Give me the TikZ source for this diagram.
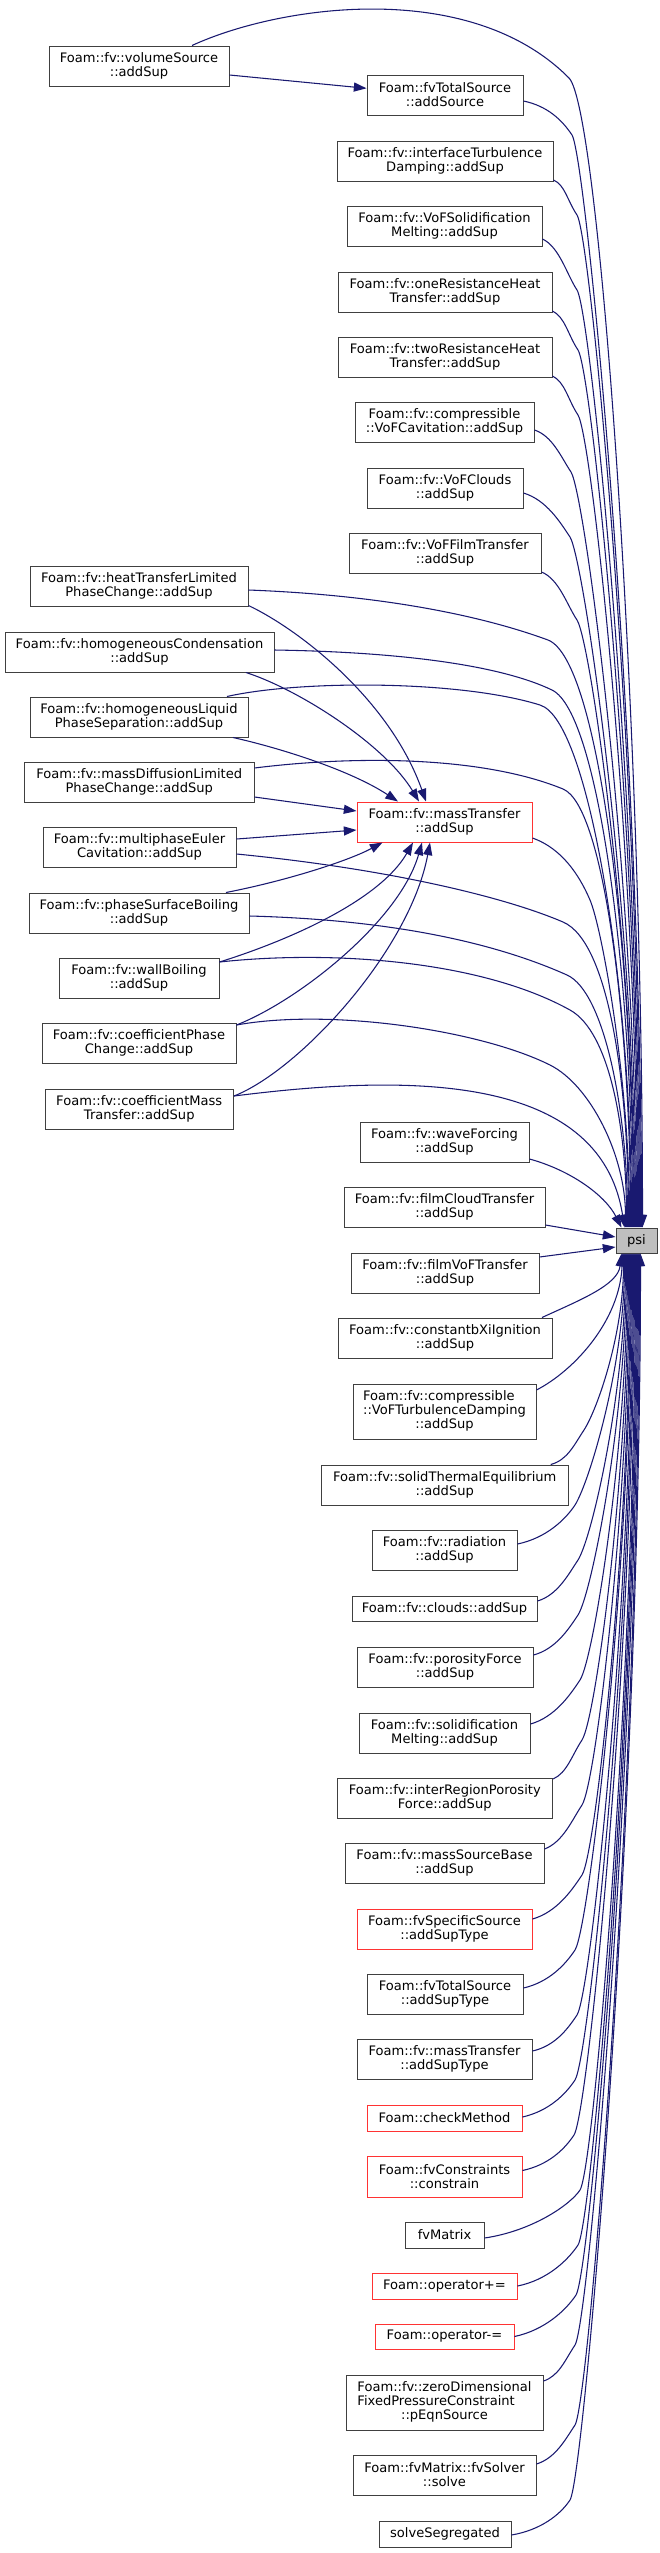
\documentclass[tikz,border=0pt]{standalone}
\usepackage{fontspec}
\setmainfont{DejaVu Sans}
\usetikzlibrary{arrows.meta,calc}
\definecolor{edgec}{HTML}{191970}
\definecolor{redb}{HTML}{FF3333}
\tikzset{
  box/.style={draw=black!75, fill=white, line width=0.75pt, inner sep=0pt, align=center,
    font=\fontsize{9.8}{10.5}\selectfont},
  redbox/.style={box, draw=redb},
  rootbox/.style={box, fill=black!25},
  edge/.style={draw=edgec, line width=0.8pt, -{Triangle[length=9.5pt,width=6.8pt]}},
}
\newcommand\bx[7][box]{\node[#1,minimum width={(#5-#3)*0.75},minimum height={(#6-#4)*0.75}] (#2) at ({(#3+#5)/2},{(#4+#6)/2}) {#7};}
\begin{document}
\begin{tikzpicture}[x=0.75pt,y=-0.75pt]
\useasboundingbox (0,0) rectangle (660,2553);
% nodes
\bx{n1}{49}{46}{229}{86}{Foam::fv::volumeSource\\::addSup}
\bx{n2}{367}{75}{523}{115}{Foam::fvTotalSource\\::addSource}
\bx{n3}{337}{141}{553}{181}{Foam::fv::interfaceTurbulence\\Damping::addSup}
\bx{n4}{347}{206}{542}{246}{Foam::fv::VoFSolidification\\Melting::addSup}
\bx{n5}{338}{272}{552}{312}{Foam::fv::oneResistanceHeat\\Transfer::addSup}
\bx{n6}{338}{337}{552}{377}{Foam::fv::twoResistanceHeat\\Transfer::addSup}
\bx{n7}{355}{402}{534}{442}{Foam::fv::compressible\\::VoFCavitation::addSup}
\bx{n8}{367}{468}{523}{508}{Foam::fv::VoFClouds\\::addSup}
\bx{n9}{349}{533}{541}{573}{Foam::fv::VoFFilmTransfer\\::addSup}
\bx{n10}{30}{566}{248}{606}{Foam::fv::heatTransferLimited\\PhaseChange::addSup}
\bx{n11}{5}{632}{274}{672}{Foam::fv::homogeneousCondensation\\::addSup}
\bx{n12}{30}{697}{248}{737}{Foam::fv::homogeneousLiquid\\PhaseSeparation::addSup}
\bx{n13}{24.5}{762}{254}{802}{Foam::fv::massDiffusionLimited\\PhaseChange::addSup}
\bx[redbox]{n14}{357}{802}{532}{842}{Foam::fv::massTransfer\\::addSup}
\bx{n15}{43}{827}{236}{867}{Foam::fv::multiphaseEuler\\Cavitation::addSup}
\bx{n16}{29}{893}{249}{933}{Foam::fv::phaseSurfaceBoiling\\::addSup}
\bx{n17}{59}{958}{219}{998}{Foam::fv::wallBoiling\\::addSup}
\bx{n18}{42}{1023}{236}{1063}{Foam::fv::coefficientPhase\\Change::addSup}
\bx{n19}{45}{1089}{233.5}{1129}{Foam::fv::coefficientMass\\Transfer::addSup}
\bx{n20}{360}{1122}{529}{1162}{Foam::fv::waveForcing\\::addSup}
\bx{n21}{344}{1187}{545}{1227}{Foam::fv::filmCloudTransfer\\::addSup}
\bx[rootbox]{psi}{616}{1228}{657}{1253}{psi}
\bx{n23}{351}{1253}{539}{1293}{Foam::fv::filmVoFTransfer\\::addSup}
\bx{n24}{338}{1318}{552}{1358}{Foam::fv::constantbXiIgnition\\::addSup}
\bx{n25}{353}{1384}{536}{1439}{\begin{tabular}{@{}l@{}}Foam::fv::compressible\\::VoFTurbulenceDamping\\\multicolumn{1}{@{}c@{}}{::addSup}\end{tabular}}
\bx{n26}{321.5}{1465}{568}{1505}{Foam::fv::solidThermalEquilibrium\\::addSup}
\bx{n27}{372}{1530}{517}{1570}{Foam::fv::radiation\\::addSup}
\bx{n28}{352}{1596}{537}{1621}{Foam::fv::clouds::addSup}
\bx{n29}{357}{1647}{533}{1687}{Foam::fv::porosityForce\\::addSup}
\bx{n30}{359}{1713}{530}{1753}{Foam::fv::solidification\\Melting::addSup}
\bx{n31}{337}{1778}{552.5}{1818}{Foam::fv::interRegionPorosity\\Force::addSup}
\bx{n32}{345}{1843}{544}{1883}{Foam::fv::massSourceBase\\::addSup}
\bx[redbox]{n33}{357}{1909}{532}{1949}{Foam::fvSpecificSource\\::addSupType}
\bx{n34}{367}{1974}{523}{2014}{Foam::fvTotalSource\\::addSupType}
\bx{n35}{357}{2039}{532}{2079}{Foam::fv::massTransfer\\::addSupType}
\bx[redbox]{n36}{367}{2105}{522}{2131}{Foam::checkMethod}
\bx[redbox]{n37}{367}{2156}{522}{2197}{Foam::fvConstraints\\::constrain}
\bx{n38}{405}{2222}{484}{2248}{fvMatrix}
\bx[redbox]{n39}{372}{2273}{517}{2299}{Foam::operator+=}
\bx[redbox]{n40}{375}{2324}{514}{2349}{Foam::operator-=}
\bx{n41}{346}{2375}{543}{2430}{\begin{tabular}{@{}l@{}}Foam::fv::zeroDimensional\\FixedPressureConstraint\\\multicolumn{1}{@{}c@{}}{::pEqnSource}\end{tabular}}
\bx{n42}{353}{2455}{536}{2495}{Foam::fvMatrix::fvSolver\\::solve}
\bx{n43}{379}{2521}{511}{2547}{solveSegregated}
% volumeSource -> fvTotalSource::addSource
\draw[edge] ($(n1.east)+(0,9)$) -- ($(n2.west)+(0,-6.7)$);
% edges into psi from above (right column)
\draw[edge] ($(n1.north)+(53,0)$) .. controls (280,5) and (470,-22) .. (569,78) .. controls (599,108) and (642.5,710) .. ($(psi.north west)+(27,0)$);
\draw[edge] ($(n2.east)+(0,6)$) .. controls (547.5,106) and (562,120) .. (572,135) .. controls (586,157) and (641.5,736) .. ($(psi.north west)+(26,0)$);
\draw[edge] ($(n3.east)+(0,19)$) .. controls (565,185) and (567,200) .. (577,215) .. controls (591,237) and (640.5,772) .. ($(psi.north west)+(25,0)$);
\draw[edge] ($(n4.east)+(0,13)$) .. controls (559.5,247) and (567,275) .. (577,290) .. controls (591,312) and (639.5,806) .. ($(psi.north west)+(24,0)$);
\draw[edge] ($(n5.east)+(0,19)$) .. controls (565,317) and (568,335) .. (578,350) .. controls (592,372) and (638.5,833) .. ($(psi.north west)+(23,0)$);
\draw[edge] ($(n6.east)+(0,19)$) .. controls (565,382) and (568,400) .. (578,415) .. controls (592,437) and (637.5,862) .. ($(psi.north west)+(22,0)$);
\draw[edge] ($(n7.east)+(0,8)$) .. controls (552.5,436) and (561,457) .. (571,472) .. controls (585,494) and (636.5,888) .. ($(psi.north west)+(21,0)$);
\draw[edge] ($(n8.east)+(0,5)$) .. controls (546.5,500) and (560,522) .. (570,537) .. controls (584,559) and (635.5,917) .. ($(psi.north west)+(20,0)$);
\draw[edge] ($(n9.east)+(0,19)$) .. controls (559,579) and (567,605) .. (577,620) .. controls (591,642) and (634.5,954) .. ($(psi.north west)+(19,0)$);
% edges into psi from the left column
\draw[edge] ($(n10.east)+(0,4)$) .. controls (380,595) and (480,615) .. (548,640) .. controls (600,660) and (633.5,963) .. ($(psi.north west)+(18,0)$);
\draw[edge] ($(n11.east)+(0,-2)$) .. controls (400,652) and (500,665) .. (552,690) .. controls (600,713) and (632.5,986) .. ($(psi.north west)+(17,0)$);
\draw[edge] ($(n12.north)+(88,0)$) .. controls (300,680) and (460,680) .. (540,705) .. controls (590,720) and (631.5,993) .. ($(psi.north west)+(16,0)$);
\draw[edge] ($(n13.east)+(0,-14)$) .. controls (350,756) and (480,755) .. (563,789) .. controls (605,806) and (630.5,1030) .. ($(psi.north west)+(15,0)$);
\draw[edge] ($(n14.east)+(0,16)$) .. controls (555,846) and (575,865) .. (590,900) .. controls (602,928) and (629.5,1080) .. ($(psi.north west)+(14,0)$);
\draw[edge] ($(n15.east)+(0,7)$) .. controls (380,868) and (500,895) .. (563,922) .. controls (610,942) and (628.5,1090) .. ($(psi.north west)+(13,0)$);
\draw[edge] ($(n16.east)+(0,3)$) .. controls (400,920) and (500,945) .. (567,975) .. controls (605,992) and (627.5,1114) .. ($(psi.north west)+(12,0)$);
\draw[edge] ($(n17.east)+(0,-16)$) .. controls (330,950) and (480,960) .. (570,1010) .. controls (610,1032) and (626.5,1130) .. ($(psi.north west)+(11,0)$);
\draw[edge] ($(n18.east)+(0,-18)$) .. controls (330,1008) and (480,1030) .. (550,1065) .. controls (590,1085) and (625.5,1155) .. ($(psi.north west)+(10,0)$);
\draw[edge] ($(n19.east)+(0,-13)$) .. controls (400,1075) and (600,1070) .. ($(psi.north west)+(9,0)$);
\draw[edge] ($(n20.east)+(0,17)$) .. controls (570,1170) and (605,1195) .. ($(psi.north west)+(6,0)$);
\draw[edge] ($(n21.east)+(0,18)$) -- ($(psi.west)+(0,-3.5)$);
\draw[edge] ($(n23.east)+(0,-16)$) -- ($(psi.west)+(0,6.5)$);
% edges into psi from below
\draw[edge] ($(n24.north)+(97,0)$) .. controls (580,1300) and (618,1285) .. ($(psi.south west)+(6,0)$);
\draw[edge] ($(n25.east)+(0,-21.5)$) .. controls (575,1370) and (620,1320) .. ($(psi.south west)+(7,0)$);
\draw[edge] ($(n26.north)+(106,0)$) .. controls (567.5,1460) and (574,1445) .. (584,1430) .. controls (598,1408) and (623.5,1333) .. ($(psi.south west)+(8,0)$);
\draw[edge] ($(n27.east)+(0,-6)$) .. controls (546,1538) and (565,1520) .. (575,1505) .. controls (589,1483) and (624.5,1366) .. ($(psi.south west)+(9,0)$);
\draw[edge] ($(n28.east)+(0,-7.5)$) .. controls (557.5,1595) and (568,1575) .. (578,1560) .. controls (592,1538) and (625.5,1391) .. ($(psi.south west)+(10,0)$);
\draw[edge] ($(n29.east)+(0,-12)$) .. controls (555.5,1649) and (568,1630) .. (578,1615) .. controls (592,1593) and (626.5,1416) .. ($(psi.south west)+(11,0)$);
\draw[edge] ($(n30.east)+(0,-9)$) .. controls (555,1717) and (570,1695) .. (580,1680) .. controls (594,1658) and (627.5,1445) .. ($(psi.south west)+(12,0)$);
\draw[edge] ($(n31.east)+(0,-19)$) .. controls (567,1773) and (572,1755) .. (582,1740) .. controls (596,1718) and (628.5,1472) .. ($(psi.south west)+(13,0)$);
\draw[edge] ($(n32.east)+(0,-14)$) .. controls (563,1842) and (572,1820) .. (582,1805) .. controls (596,1783) and (629.5,1501) .. ($(psi.south west)+(14,0)$);
\draw[edge] ($(n33.east)+(0,-10)$) .. controls (557,1912) and (572,1890) .. (582,1875) .. controls (596,1853) and (630.5,1533) .. ($(psi.south west)+(15,0)$);
\draw[edge] ($(n34.east)+(0,-6)$) .. controls (549,1982) and (565,1965) .. (575,1950) .. controls (589,1928) and (631.5,1567) .. ($(psi.south west)+(16,0)$);
\draw[edge] ($(n35.east)+(0,-8)$) .. controls (554.5,2046) and (567,2030) .. (577,2015) .. controls (591,1993) and (632.5,1596) .. ($(psi.south west)+(17,0)$);
\draw[edge] ($(n36.east)+(0,-1)$) .. controls (548.5,2111) and (565,2095) .. (575,2080) .. controls (589,2058) and (633.5,1625) .. ($(psi.south west)+(18,0)$);
\draw[edge] ($(n37.east)+(0,-6)$) .. controls (548,2165) and (564,2150) .. (574,2135) .. controls (588,2113) and (634.5,1650) .. ($(psi.south west)+(19,0)$);
\draw[edge] ($(n38.east)+(0,3)$) .. controls (532,2231) and (570,2205) .. (580,2190) .. controls (594,2168) and (635.5,1675) .. ($(psi.south west)+(20,0)$);
\draw[edge] ($(n39.east)$) .. controls (547.5,2280) and (568,2260) .. (578,2245) .. controls (592,2223) and (636.5,1699) .. ($(psi.south west)+(21,0)$);
\draw[edge] ($(n40.east)$) .. controls (545,2330) and (566,2310) .. (576,2295) .. controls (590,2273) and (637.5,1722) .. ($(psi.south west)+(22,0)$);
\draw[edge] ($(n41.east)+(0,-21.5)$) .. controls (559,2376) and (565,2360) .. (575,2345) .. controls (589,2323) and (638.5,1744) .. ($(psi.south west)+(23,0)$);
\draw[edge] ($(n42.east)+(0,-11)$) .. controls (555.5,2458) and (565,2440) .. (575,2425) .. controls (589,2403) and (639.5,1780) .. ($(psi.south west)+(24,0)$);
\draw[edge] ($(n43.east)+(0,1)$) .. controls (540.5,2530) and (560,2515) .. (570,2500) .. controls (584,2478) and (640.5,1814) .. ($(psi.south west)+(25,0)$);
% edges into massTransfer::addSup
\draw[edge] ($(n10.south east)+(0,-1)$) .. controls (300,630) and (390,700) .. ($(n14.north)+(-18.5,0)$);
\draw[edge] ($(n11.south)+(106.5,0)$) .. controls (300,690) and (385,745) .. ($(n14.north)+(-25.5,0)$);
\draw[edge] ($(n12.south)+(94,0)$) .. controls (280,748) and (350,770) .. ($(n14.north)+(-46.5,0)$);
\draw[edge] ($(n13.east)+(0,15)$) -- ($(n14.west)+(0,-11)$);
\draw[edge] ($(n15.east)+(0,-8)$) -- ($(n14.west)+(0,8)$);
\draw[edge] ($(n16.north)+(87,0)$) .. controls (290,880) and (350,860) .. ($(n14.south)+(-62,0)$);
\draw[edge] ($(n17.east)+(0,-16)$) .. controls (290,940) and (380,900) .. ($(n14.south)+(-31.5,0)$);
\draw[edge] ($(n18.east)+(0,-18)$) .. controls (300,1000) and (400,920) .. ($(n14.south)+(-22.5,0)$);
\draw[edge] ($(n19.east)+(0,-13)$) .. controls (300,1070) and (410,950) .. ($(n14.south)+(-14.5,0)$);
\end{tikzpicture}
\end{document}
